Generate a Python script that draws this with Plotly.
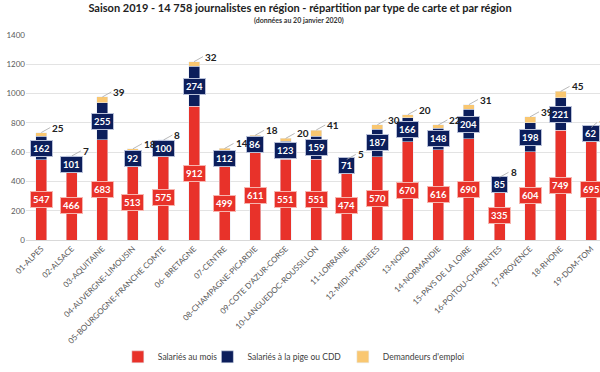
import plotly.graph_objects as go

regions = ["01-ALPES", "02-ALSACE", "03-AQUITAINE", "04-AUVERGNE-LIMOUSIN",
           "05-BOURGOGNE-FRANCHE COMTE", "06- BRETAGNE", "07-CENTRE",
           "08-CHAMPAGNE-PICARDIE", "09-COTE D'AZUR-CORSE", "10-LANGUEDOC-ROUSSILLON",
           "11-LORRAINE", "12-MIDI-PYRENEES", "13-NORD", "14-NORMANDIE",
           "15-PAYS DE LA LOIRE", "16-POITOU-CHARENTES", "17-PROVENCE", "18-RHONE",
           "19-DOM-TOM"]
salaries_mois = [547, 466, 683, 513, 575, 912, 499, 611, 551, 551, 474, 570, 670, 616, 690, 335, 604, 749, 695]
pigistes_cdd = [162, 101, 255, 92, 100, 274, 112, 86, 123, 159, 71, 187, 166, 148, 204, 85, 198, 221, 62]
demandeurs = [25, 7, 39, 18, 8, 32, 14, 18, 20, 41, 5, 30, 20, 22, 31, 8, 39, 45, 11]
y_ticks = [0, 200, 400, 600, 800, 1000, 1200, 1400]

RED = "#E8322A"
NAVY = "#0C1E5B"
ORANGE = "#F9C771"
FONT = "Lato"

fig = go.Figure()
fig.add_bar(x=regions, y=salaries_mois, name="Salariés au mois", marker_color=RED, legend="legend")
fig.add_bar(x=regions, y=pigistes_cdd, name="Salariés à la pige ou CDD", marker_color=NAVY, legend="legend2")
fig.add_bar(x=regions, y=demandeurs, name="Demandeurs d'emploi", marker_color=ORANGE, legend="legend3")

ann = []
for i, r in enumerate(regions):
    a, b, c = salaries_mois[i], pigistes_cdd[i], demandeurs[i]
    ann.append(dict(x=r, y=a / 2, text=f"<b>{a}</b>", showarrow=False,
                    font=dict(color="white", size=9.5, family=FONT),
                    bgcolor=RED, bordercolor="#F7B4AE", borderwidth=1, borderpad=2))
    ann.append(dict(x=r, y=a + b / 2, text=f"<b>{b}</b>", showarrow=False,
                    font=dict(color="white", size=9.5, family=FONT),
                    bgcolor=NAVY, bordercolor="#B8C0D8", borderwidth=1, borderpad=2))
for i, r in enumerate(regions):
    a, b, c = salaries_mois[i], pigistes_cdd[i], demandeurs[i]
    ann.append(dict(x=r, y=a + b + c, text=f"<b>{c}</b>", showarrow=True,
                    arrowhead=0, arrowwidth=0.8, arrowcolor="#A6A6A6",
                    ax=9, ay=-5, xanchor="left", yanchor="middle",
                    font=dict(color="#222222", size=10, family=FONT)))

ann.append(dict(xref="paper", yref="paper", x=0.475, y=1.073, yanchor="middle",
                showarrow=False,
                text="<b>(données au 20 janvier 2020)</b>",
                font=dict(size=7, color="#333333", family=FONT)))

leg_common = dict(orientation="h", y=-0.57, yanchor="middle", xanchor="left",
                  font=dict(size=8.5, color="#404040", family=FONT), itemwidth=30,
                  bgcolor="rgba(0,0,0,0)")

fig.update_layout(
    width=600, height=372,
    barmode="stack", bargap=0.64,
    paper_bgcolor="white", plot_bgcolor="white",
    margin=dict(l=26, r=0, t=35, b=132),
    title=dict(text="<b>Saison 2019 - 14 758 journalistes en région - répartition par type de carte et par région</b>",
               x=0.5, xanchor="center", y=0.978, yanchor="middle",
               font=dict(size=11, color="#222222", family=FONT)),
    font=dict(family=FONT, color="#595959"),
    showlegend=True,
    legend=dict(x=0.160, **leg_common),
    legend2=dict(x=0.316, **leg_common),
    legend3=dict(x=0.552, **leg_common),
    annotations=ann,
)
fig.update_xaxes(range=[-0.5, 18.29], tickangle=-45, tickfont=dict(size=8, color="#595959"),
                 showline=True, linecolor="#D9D9D9", ticks="", showgrid=False, automargin=False)
fig.update_yaxes(range=[0, 1400], tickvals=y_ticks, tickfont=dict(size=8, color="#595959"),
                 showgrid=True, gridcolor="#E3E3E3", zeroline=False, ticks="", automargin=False)

fig.write_html("out.html", config={"displayModeBar": False},
               post_script="document.body.style.margin='0';document.body.style.overflow='hidden';")
